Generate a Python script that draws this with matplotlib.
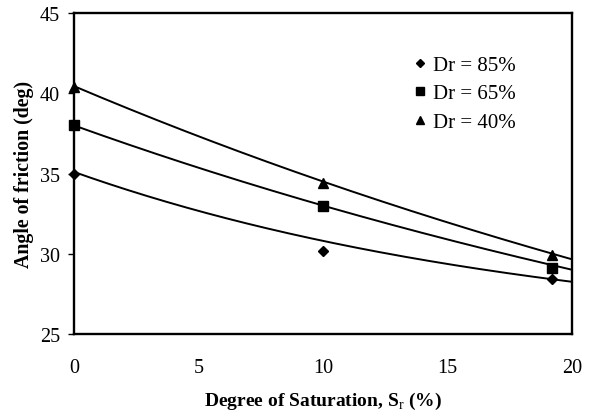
import matplotlib
matplotlib.use("Agg")
import matplotlib.pyplot as plt
import numpy as np

plt.rcParams["font.family"] = ["Liberation Serif", "DejaVu Serif"]
plt.rcParams["mathtext.fontset"] = "custom"
plt.rcParams["mathtext.rm"] = "Liberation Serif"

# degree of saturation (%) and friction angle (deg) for each relative density
saturation = [0, 10, 19.2]
phi_85 = [35.0, 30.2, 28.4]
phi_65 = [38.0, 33.0, 29.1]
phi_40 = [40.4, 34.4, 29.9]

# trend curve values at Sr = 0, 10, 20
trend_x = [0, 10, 20]
trend_85 = [35.1, 30.8, 28.25]
trend_65 = [38.0, 33.0, 29.0]
trend_40 = [40.45, 34.5, 29.65]

series = [
    ("Dr = 85%", phi_85, trend_85, "D", 5),
    ("Dr = 65%", phi_65, trend_65, "s", 6.5),
    ("Dr = 40%", phi_40, trend_40, "^", 6.5),
]


def decay_curve(tx, ty, x):
    # y = c + a*r**(x/h) through three equally spaced points
    h = tx[1] - tx[0]
    d1 = ty[0] - ty[1]
    d2 = ty[1] - ty[2]
    r = d2 / d1
    a = d1 / (1 - r)
    c = ty[0] - a
    return c + a * r ** ((np.asarray(x) - tx[0]) / h)


fig = plt.figure(figsize=(5.91, 4.14), dpi=100)
ax = fig.add_axes([0.125, 0.191, 0.843, 0.775])

xs = np.linspace(0, 20, 200)
for label, y, trend, marker, ms in series:
    ax.plot(xs, decay_curve(trend_x, trend, xs), color="black", lw=1.4)
    ax.plot(saturation, y, linestyle="none", marker=marker, markersize=ms,
            color="black", label=label, clip_on=False, zorder=3)

ax.set_xlim(0, 20)
ax.set_ylim(25, 45)
ax.set_xticks([0, 5, 10, 15, 20])
ax.set_yticks([25, 30, 35, 40, 45])
ax.tick_params(axis="x", length=0, pad=17, labelsize=14.5)
ax.tick_params(axis="y", length=4, width=1, pad=6, labelsize=14.5)
for s in ax.spines.values():
    s.set_linewidth(1.7)

ax.set_xlabel(r"Degree of Saturation, S$_\mathrm{r}$ (%)", fontsize=14,
              fontweight="bold", labelpad=9.5)
ax.set_ylabel("Angle of friction (deg)", fontsize=14.3, fontweight="bold",
              labelpad=4)

ax.legend(loc="upper left", bbox_to_anchor=(0.661, 0.9), frameon=False,
          borderpad=0, fontsize=15, handlelength=0.6, handletextpad=0.35,
          labelspacing=0.42, markerscale=0.8)

fig.savefig("out.png", dpi=100)
